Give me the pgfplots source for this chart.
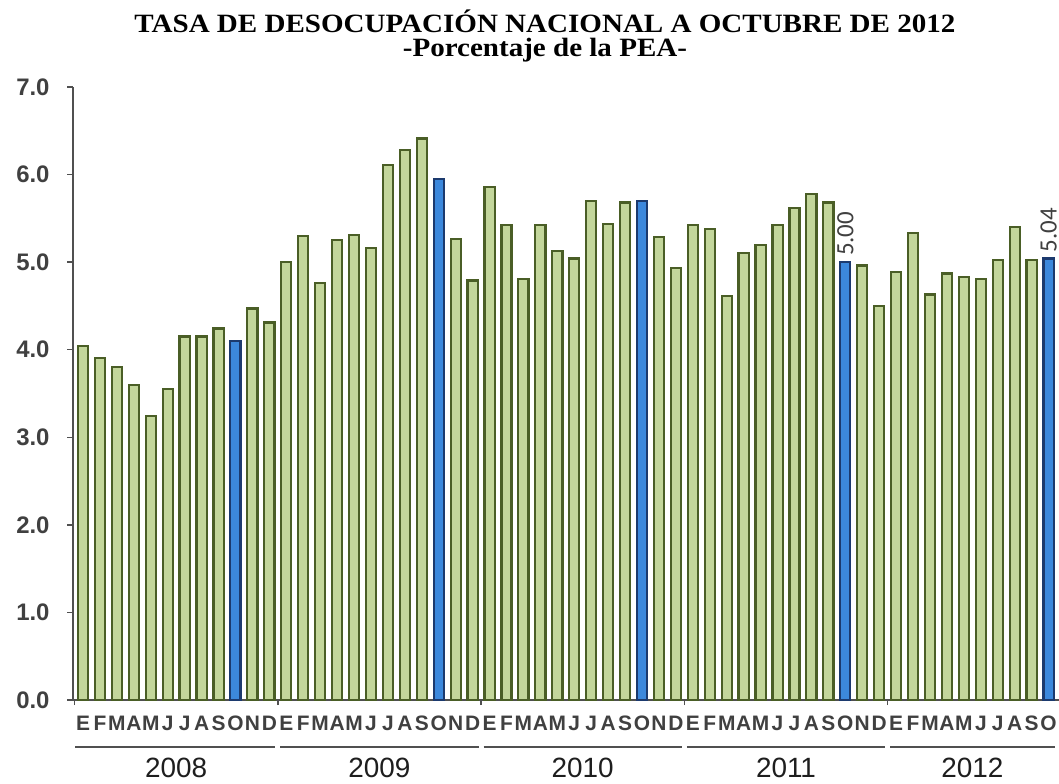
\documentclass[border=0pt]{standalone}
\usepackage{fontspec}
\setmainfont{Liberation Sans}
\newfontfamily\titlefont[FakeStretch=1.1]{Liberation Serif}
\newfontfamily\valfont{Carlito}
\usepackage{pgfplots}
\pgfplotsset{compat=1.18}
\usepackage{pgfplotstable}
\definecolor{gfill}{HTML}{C3D69B}
\definecolor{gedge}{HTML}{4A5E26}
\definecolor{bfill}{HTML}{3C88DC}
\definecolor{bedge}{HTML}{1C3A6E}
\definecolor{txt}{HTML}{1E1E1E}
\definecolor{axc}{HTML}{505050}

\pgfplotstableread{
x y
0 4.04
1 3.90
2 3.80
3 3.60
4 3.24
5 3.55
6 4.15
7 4.15
8 4.24
10 4.47
11 4.31
12 5.00
13 5.30
14 4.76
15 5.25
16 5.31
17 5.16
18 6.11
19 6.28
20 6.41
22 5.26
23 4.79
24 5.86
25 5.42
26 4.81
27 5.42
28 5.13
29 5.04
30 5.70
31 5.43
32 5.68
34 5.29
35 4.93
36 5.42
37 5.38
38 4.61
39 5.10
40 5.19
41 5.42
42 5.62
43 5.78
44 5.68
46 4.96
47 4.50
48 4.89
49 5.33
50 4.63
51 4.87
52 4.83
53 4.81
54 5.02
55 5.40
56 5.02
}\greenbars

\pgfplotstableread{
x y
9 4.10
21 5.95
33 5.70
}\bluebars

\pgfplotstableread{
x y
45 5.00
57 5.04
}\bluelabeled

\begin{document}
\begin{tikzpicture}
\begin{axis}[
  x=16.94bp, y=87.6bp,
  xmin=-0.59, xmax=57.62, ymin=0, ymax=7,
  axis lines*=left,
  axis line style={color=axc, line width=1.6bp},
  clip=false,
  ybar, bar shift=0pt, bar width=0.60,
  /pgf/number format/assume math mode=true,
  ytick={0,1,2,3,4,5,6,7},
  yticklabel style={/pgf/number format/fixed, /pgf/number format/fixed zerofill, /pgf/number format/precision=1},
  y tick label style={font=\bfseries\fontsize{24}{24}\selectfont, color=txt!85, xshift=-14bp},
  ytick style={color=axc, line width=1.4bp},
  tick align=outside,
  major tick length=6bp,
  minor tick length=5bp,
  xtick={0,...,57},
  xticklabels={E,F,M,A,M,J,J,A,S,O,N,D,E,F,M,A,M,J,J,A,S,O,N,D,E,F,M,A,M,J,J,A,S,O,N,D,E,F,M,A,M,J,J,A,S,O,N,D,E,F,M,A,M,J,J,A,S,O},
  x tick label style={font=\bfseries\fontsize{21}{21}\selectfont, color=txt!85, anchor=base, yshift=-24bp},
  major x tick style={draw=none},
  minor xtick={-0.5,11.5,23.5,35.5,47.5},
  minor x tick style={color=axc, line width=1.4bp},
  extra x ticks={5.5,17.5,29.5,41.5,52.5},
  extra x tick labels={2008,2009,2010,2011,2012},
  extra x tick style={
    tick style={draw=none},
    x tick label style={font=\mdseries\fontsize{28}{28}\selectfont, color=txt, anchor=base, yshift=-47bp},
  },
]
\addplot[fill=gfill, draw=gedge, line width=2.2bp] table[x=x, y=y] {\greenbars};
\addplot[fill=bfill, draw=bedge, line width=2.2bp] table[x=x, y=y] {\bluebars};
\addplot[fill=bfill, draw=bedge, line width=2.2bp,
  nodes near coords={\pgfmathprintnumber[fixed, fixed zerofill, precision=2]{\pgfplotspointmeta}},
  every node near coord/.append style={rotate=90, anchor=west, font=\valfont\fontsize{25}{25}\selectfont, color=txt!85, xshift=2bp, inner sep=3bp}
] table[x=x, y=y] {\bluelabeled};

\draw[color=axc, line width=1.6bp] (axis cs:-0.45,-0.537) -- (axis cs:11.35,-0.537);
\draw[color=axc, line width=1.6bp] (axis cs:11.65,-0.537) -- (axis cs:23.35,-0.537);
\draw[color=axc, line width=1.6bp] (axis cs:23.65,-0.537) -- (axis cs:35.35,-0.537);
\draw[color=axc, line width=1.6bp] (axis cs:35.65,-0.537) -- (axis cs:47.35,-0.537);
\draw[color=axc, line width=1.6bp] (axis cs:47.65,-0.537) -- (axis cs:57.4,-0.537);

\node[anchor=base, font=\titlefont\bfseries\fontsize{26.5}{26.5}\selectfont] at (axis cs:27.27,7.625) {TASA DE DESOCUPACIÓN NACIONAL A OCTUBRE DE 2012};
\node[anchor=base, font=\titlefont\bfseries\fontsize{26.5}{26.5}\selectfont] at (axis cs:27.27,7.345) {-Porcentaje de la PEA-};

\coordinate (BL) at (axis cs:-4.90,-0.9475);
\coordinate (TR) at (axis cs:57.615,7.991);
\end{axis}
\pgfresetboundingbox
\path[use as bounding box] (BL) rectangle (TR);
\end{tikzpicture}
\end{document}
